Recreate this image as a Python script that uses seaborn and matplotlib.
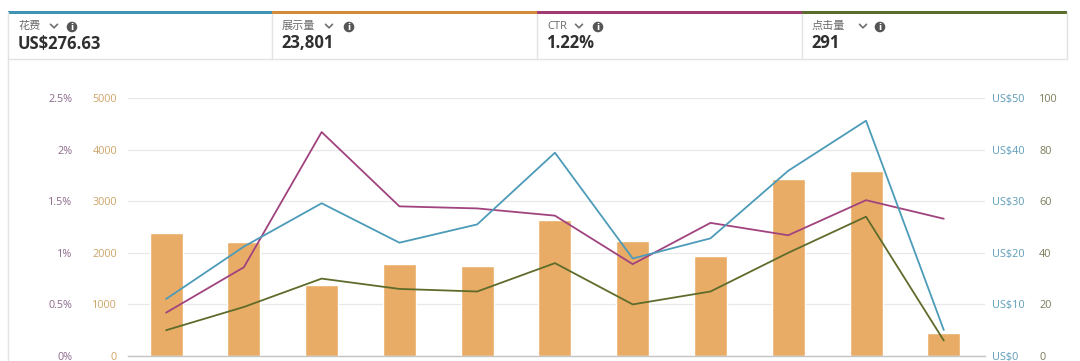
import numpy as np
import pandas as pd
import matplotlib
matplotlib.use("Agg")
import matplotlib.pyplot as plt
from matplotlib.patches import Circle, Rectangle
from matplotlib.ticker import FuncFormatter, FixedLocator
import seaborn as sns

# ---------------- data ----------------
days = list(range(11))
impressions = [2390, 2203, 1376, 1783, 1744, 2636, 2235, 1938, 3424, 3591, 452]
spend = [11.05, 21.2, 29.6, 21.96, 25.5, 39.4, 18.9, 22.8, 35.9, 45.6, 5.04]
ctr = [0.42, 0.86, 2.17, 1.45, 1.43, 1.36, 0.89, 1.29, 1.17, 1.51, 1.33]
clicks = [10, 19, 30, 26, 25, 36, 20, 25, 40, 54, 6]

card_labels = ["花费", "展示量", "CTR", "点击量"]
card_values = ["US$276.63", "23,801", "1.22%", "291"]

imp_ticks = [0, 1000, 2000, 3000, 4000, 5000]
ctr_ticks = [0, 0.5, 1, 1.5, 2, 2.5]
spend_ticks = [0, 10, 20, 30, 40, 50]
click_ticks = [0, 20, 40, 60, 80, 100]

# ---------------- style ----------------
sns.set_theme(style="white")
plt.rcParams["font.family"] = ["Open Sans", "Noto Sans CJK SC", "DejaVu Sans"]

C_BAR = "#E9AC66"
C_SPEND = "#4C9BB8"
C_CTR = "#A0437E"
C_CLICK = "#5E6C2B"
TOP_COLORS = ["#3E94B2", "#D38B38", "#A23A74", "#5B6E30"]
TICK_IMP = "#CDA468"
TICK_CTR = "#8C6A8C"
TICK_SPEND = "#5E9DB8"
TICK_CLICK = "#7C7C5C"
TS = 7.8

W, H = 1080, 361
fig = plt.figure(figsize=(W / 100, H / 100), dpi=100)
fig.patch.set_facecolor("white")

# main axes in pixel box: x 128..985, y 98..356
L, R, T, B = 128, 985, 98, 356
ax = fig.add_axes([L / W, (H - B) / H, (R - L) / W, (B - T) / H])

df = pd.DataFrame({"day": days, "impressions": impressions, "spend": spend,
                   "ctr": ctr, "clicks": clicks})

sns.barplot(data=df, x="day", y="impressions", color=C_BAR, width=0.424,
            saturation=1, ax=ax, zorder=2, native_scale=True)
ax.set_ylim(0, 5000)
ax.set_xlim(-0.49, 10.53)
ax.yaxis.set_major_locator(FixedLocator(imp_ticks))
ax.set_xticks([])
ax.set_xlabel("")
ax.set_ylabel("")
ax.grid(axis="y", color="#E8E8E8", linewidth=0.9)
ax.set_axisbelow(True)
for s in ["top", "right", "left"]:
    ax.spines[s].set_visible(False)
ax.spines["bottom"].set_color("#C4C4C4")
ax.spines["bottom"].set_linewidth(1.0)
ax.tick_params(axis="y", length=0, pad=8, labelsize=TS, labelcolor=TICK_IMP)
ax.set_facecolor("none")

def twin():
    t = ax.twinx()
    for s in t.spines.values():
        s.set_visible(False)
    t.set_xlim(-0.49, 10.53)
    t.grid(False)
    t.set_ylabel("")
    return t

ax_ctr = twin()
sns.lineplot(data=df, x="day", y="ctr", color=C_CTR, linewidth=1.3, ax=ax_ctr)
ax_ctr.set_ylim(0, 2.5)
ax_ctr.yaxis.set_major_locator(FixedLocator(ctr_ticks))
ax_ctr.yaxis.tick_left()
ax_ctr.yaxis.set_major_formatter(FuncFormatter(lambda v, p: f"{v:g}%"))
ax_ctr.tick_params(axis="y", length=0, pad=40, labelsize=TS, labelcolor=TICK_CTR)
ax_ctr.set_ylabel("")

ax_sp = twin()
sns.lineplot(data=df, x="day", y="spend", color=C_SPEND, linewidth=1.3, ax=ax_sp)
ax_sp.set_ylim(0, 50)
ax_sp.yaxis.set_major_locator(FixedLocator(spend_ticks))
ax_sp.yaxis.tick_right()
ax_sp.yaxis.set_major_formatter(FuncFormatter(lambda v, p: f"US${v:g}"))
ax_sp.tick_params(axis="y", length=0, pad=5, labelsize=TS, labelcolor=TICK_SPEND)
ax_sp.set_ylabel("")

ax_cl = twin()
sns.lineplot(data=df, x="day", y="clicks", color=C_CLICK, linewidth=1.3, ax=ax_cl)
ax_cl.set_ylim(0, 100)
ax_cl.yaxis.set_major_locator(FixedLocator(click_ticks))
ax_cl.yaxis.tick_right()
ax_cl.tick_params(axis="y", length=0, pad=39, labelsize=TS, labelcolor=TICK_CLICK)
ax_cl.set_ylabel("")

for a in (ax_ctr, ax_sp, ax_cl):
    a.set_xticks([])
    a.set_xlabel("")

# ---------------- header overlay (pixel coordinates) ----------------
ov = fig.add_axes([0, 0, 1, 1], zorder=10)
ov.set_xlim(0, W)
ov.set_ylim(H, 0)
ov.axis("off")
ov.patch.set_alpha(0)

card_x = [8, 272, 537, 802, 1067]
border = "#E3E3E3"
ov.plot([8, 8], [12, 361], color=border, lw=1.0)
ov.plot([1067, 1067], [12, 59], color=border, lw=1.0)
ov.plot([8, 1067], [59, 59], color=border, lw=1.0)
for xs in card_x[1:4]:
    ov.plot([xs, xs], [14, 59], color=border, lw=1.0)

chev_x = [54, 329, 579, 863]
icon_x = [72, 349, 598, 880]
for i in range(4):
    x0, x1 = card_x[i], card_x[i + 1]
    ov.add_patch(Rectangle((x0, 11.3), x1 - x0 - 0.5, 2.8, color=TOP_COLORS[i], lw=0))
    ov.text(x0 + 10, 26.5, card_labels[i], fontsize=8, color="#6A6A6A",
            va="center", ha="left")
    ov.text(x0 + 9.5, 43.5, card_values[i], fontsize=12, color="#2F2F2F",
            fontweight="bold", va="center", ha="left")
    cx = chev_x[i]
    ov.plot([cx - 3.5, cx, cx + 3.5], [24.3, 27.8, 24.3], color="#707070",
            lw=1.2, solid_capstyle="round", solid_joinstyle="round")
    ov.add_patch(Circle((icon_x[i], 27), 5.3, color="#555555", lw=0))
    ov.text(icon_x[i], 27.3, "i", fontsize=6.5, color="white", fontweight="bold",
            ha="center", va="center", family="DejaVu Sans")

fig.savefig("out.png", dpi=100, facecolor="white")
